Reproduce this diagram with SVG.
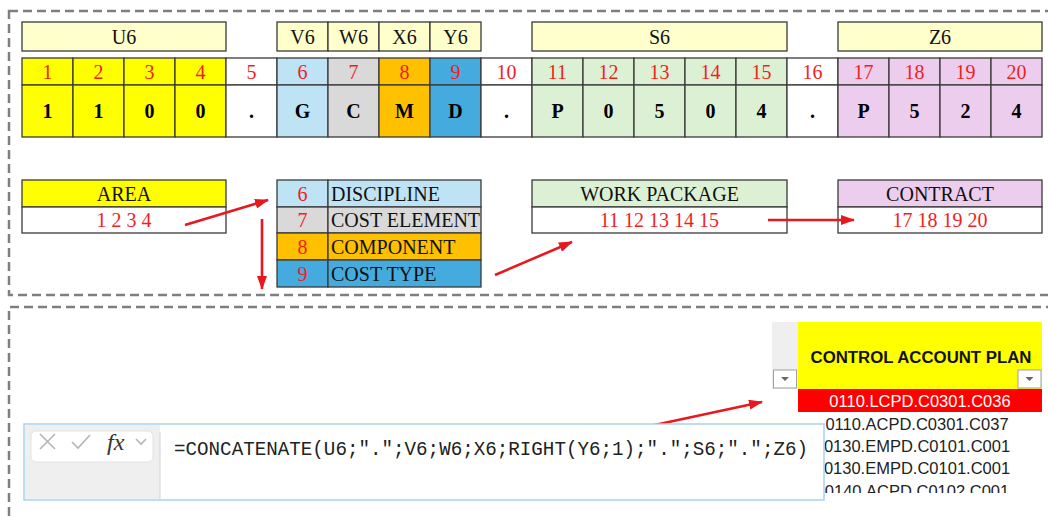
<svg xmlns="http://www.w3.org/2000/svg" width="1048" height="521" viewBox="0 0 1048 521">
<defs>
<style>
.dash{fill:none;stroke:#7f7f7f;stroke-width:2.5;stroke-dasharray:9 5}
.c{stroke:#3a3a3a;stroke-width:1.3}
.hd{fill:#FFFFCC;stroke:#3a3a3a;stroke-width:1.3}
.t{font-family:"Liberation Serif",serif;font-size:20px;fill:#111;text-anchor:middle;dominant-baseline:central}
.n{font-family:"Liberation Serif",serif;font-size:20px;fill:#f01e1e;text-anchor:middle;dominant-baseline:central}
.v{font-family:"Liberation Serif",serif;font-size:20px;font-weight:bold;fill:#000;text-anchor:middle;dominant-baseline:central}
.l{font-family:"Liberation Serif",serif;font-size:20px;fill:#111;dominant-baseline:central}
.ar{stroke:#e8191e;stroke-width:2.6;fill:none;marker-end:url(#ah)}
.y{fill:#FFFF00}.w{fill:#ffffff}.lb{fill:#BEE3F4}.g{fill:#D9D9D9}.o{fill:#FFC000}.b{fill:#45ABDF}.gr{fill:#DCF0D4}.p{fill:#EDCDEE}
.cap{font-family:"Liberation Sans",Arial,sans-serif;font-size:16.5px;fill:#222;text-anchor:middle;dominant-baseline:central}
.capw{fill:#ffffff}
.caph{font-weight:bold;fill:#111;font-size:16.8px}
.ic{stroke:#B5B5B5;stroke-width:1.6;fill:none}
</style>
<marker id="ah" viewBox="0 0 14 10" refX="13" refY="5" markerWidth="14" markerHeight="10" markerUnits="userSpaceOnUse" orient="auto">
<path d="M0,0 L14,5 L0,10 z" fill="#e8191e"/>
</marker>
<clipPath id="listclip"><rect x="797" y="389" width="246" height="104"/></clipPath>
</defs>
<rect width="1048" height="521" fill="#ffffff"/>

<g id="frames">
<rect class="dash" x="9" y="11" width="1050" height="284"/>
<path class="dash" d="M9,530 L9,307 L1060,307"/>
</g>

<g id="headers">
<rect class="hd" x="22" y="22" width="204" height="29"/><text class="t" x="124" y="37">U6</text>
<rect class="hd" x="277" y="22" width="51" height="29"/><text class="t" x="302.5" y="37">V6</text>
<rect class="hd" x="328" y="22" width="51" height="29"/><text class="t" x="353.5" y="37">W6</text>
<rect class="hd" x="379" y="22" width="51" height="29"/><text class="t" x="404.5" y="37">X6</text>
<rect class="hd" x="430" y="22" width="51" height="29"/><text class="t" x="455.5" y="37">Y6</text>
<rect class="hd" x="532" y="22" width="255" height="29"/><text class="t" x="659.5" y="37">S6</text>
<rect class="hd" x="838" y="22" width="204" height="29"/><text class="t" x="940" y="37">Z6</text>
</g>

<g id="code-grid">
<rect class="c y" x="22" y="58" width="51" height="27"/><rect class="c y" x="22" y="85" width="51" height="52"/>
<rect class="c y" x="73" y="58" width="51" height="27"/><rect class="c y" x="73" y="85" width="51" height="52"/>
<rect class="c y" x="124" y="58" width="51" height="27"/><rect class="c y" x="124" y="85" width="51" height="52"/>
<rect class="c y" x="175" y="58" width="51" height="27"/><rect class="c y" x="175" y="85" width="51" height="52"/>
<rect class="c w" x="226" y="58" width="51" height="27"/><rect class="c w" x="226" y="85" width="51" height="52"/>
<rect class="c lb" x="277" y="58" width="51" height="27"/><rect class="c lb" x="277" y="85" width="51" height="52"/>
<rect class="c g" x="328" y="58" width="51" height="27"/><rect class="c g" x="328" y="85" width="51" height="52"/>
<rect class="c o" x="379" y="58" width="51" height="27"/><rect class="c o" x="379" y="85" width="51" height="52"/>
<rect class="c b" x="430" y="58" width="51" height="27"/><rect class="c b" x="430" y="85" width="51" height="52"/>
<rect class="c w" x="481" y="58" width="51" height="27"/><rect class="c w" x="481" y="85" width="51" height="52"/>
<rect class="c gr" x="532" y="58" width="51" height="27"/><rect class="c gr" x="532" y="85" width="51" height="52"/>
<rect class="c gr" x="583" y="58" width="51" height="27"/><rect class="c gr" x="583" y="85" width="51" height="52"/>
<rect class="c gr" x="634" y="58" width="51" height="27"/><rect class="c gr" x="634" y="85" width="51" height="52"/>
<rect class="c gr" x="685" y="58" width="51" height="27"/><rect class="c gr" x="685" y="85" width="51" height="52"/>
<rect class="c gr" x="736" y="58" width="51" height="27"/><rect class="c gr" x="736" y="85" width="51" height="52"/>
<rect class="c w" x="787" y="58" width="51" height="27"/><rect class="c w" x="787" y="85" width="51" height="52"/>
<rect class="c p" x="838" y="58" width="51" height="27"/><rect class="c p" x="838" y="85" width="51" height="52"/>
<rect class="c p" x="889" y="58" width="51" height="27"/><rect class="c p" x="889" y="85" width="51" height="52"/>
<rect class="c p" x="940" y="58" width="51" height="27"/><rect class="c p" x="940" y="85" width="51" height="52"/>
<rect class="c p" x="991" y="58" width="51" height="27"/><rect class="c p" x="991" y="85" width="51" height="52"/>
<text class="n" x="47.5" y="72">1</text><text class="n" x="98.5" y="72">2</text><text class="n" x="149.5" y="72">3</text><text class="n" x="200.5" y="72">4</text><text class="n" x="251.5" y="72">5</text><text class="n" x="302.5" y="72">6</text><text class="n" x="353.5" y="72">7</text><text class="n" x="404.5" y="72">8</text><text class="n" x="455.5" y="72">9</text><text class="n" x="506.5" y="72">10</text><text class="n" x="557.5" y="72">11</text><text class="n" x="608.5" y="72">12</text><text class="n" x="659.5" y="72">13</text><text class="n" x="710.5" y="72">14</text><text class="n" x="761.5" y="72">15</text><text class="n" x="812.5" y="72">16</text><text class="n" x="863.5" y="72">17</text><text class="n" x="914.5" y="72">18</text><text class="n" x="965.5" y="72">19</text><text class="n" x="1016.5" y="72">20</text>
<text class="v" x="47.5" y="111">1</text><text class="v" x="98.5" y="111">1</text><text class="v" x="149.5" y="111">0</text><text class="v" x="200.5" y="111">0</text><text class="v" x="251.5" y="111">.</text><text class="v" x="302.5" y="111">G</text><text class="v" x="353.5" y="111">C</text><text class="v" x="404.5" y="111">M</text><text class="v" x="455.5" y="111">D</text><text class="v" x="506.5" y="111">.</text><text class="v" x="557.5" y="111">P</text><text class="v" x="608.5" y="111">0</text><text class="v" x="659.5" y="111">5</text><text class="v" x="710.5" y="111">0</text><text class="v" x="761.5" y="111">4</text><text class="v" x="812.5" y="111">.</text><text class="v" x="863.5" y="111">P</text><text class="v" x="914.5" y="111">5</text><text class="v" x="965.5" y="111">2</text><text class="v" x="1016.5" y="111">4</text>
</g>

<g id="area">
<rect class="c y" x="22" y="180" width="204" height="27"/>
<rect class="c w" x="22" y="207" width="204" height="26"/>
<text class="t" x="124" y="193.5">AREA</text>
<text class="n" x="124" y="220">1 2 3 4</text>
</g>

<g id="discipline-table">
<rect class="c lb" x="277" y="180" width="51" height="27"/><rect class="c lb" x="328" y="180" width="153" height="27"/>
<rect class="c g" x="277" y="207" width="51" height="26"/><rect class="c g" x="328" y="207" width="153" height="26"/>
<rect class="c o" x="277" y="233" width="51" height="27"/><rect class="c o" x="328" y="233" width="153" height="27"/>
<rect class="c b" x="277" y="260" width="51" height="27"/><rect class="c b" x="328" y="260" width="153" height="27"/>
<text class="n" x="302.5" y="194">6</text><text class="l" x="331" y="194">DISCIPLINE</text>
<text class="n" x="302.5" y="220">7</text><text class="l" x="331" y="220">COST ELEMENT</text>
<text class="n" x="302.5" y="247">8</text><text class="l" x="331" y="247">COMPONENT</text>
<text class="n" x="302.5" y="273.5">9</text><text class="l" x="331" y="273.5">COST TYPE</text>
</g>

<g id="work-package">
<rect class="c gr" x="532" y="180" width="255" height="27"/>
<rect class="c w" x="532" y="207" width="255" height="26"/>
<text class="t" x="659.5" y="193.5">WORK PACKAGE</text>
<text class="n" x="659.5" y="220">11 12 13 14 15</text>
</g>

<g id="contract">
<rect class="c p" x="838" y="180" width="204" height="27"/>
<rect class="c w" x="838" y="207" width="204" height="26"/>
<text class="t" x="940" y="193.5">CONTRACT</text>
<text class="n" x="940" y="220">17 18 19 20</text>
</g>

<g id="control-account-plan">
<rect x="772" y="322" width="26" height="67" fill="#EFEFEF"/>
<rect x="798" y="322" width="244" height="67" fill="#FFFF00"/>
<text class="cap caph" x="921" y="357">CONTROL ACCOUNT PLAN</text>
<rect x="773.5" y="370" width="23" height="18" fill="#ffffff" stroke="#a0a0a0" stroke-width="1"/>
<path d="M781,377 L789,377 L785,381 z" fill="#666"/>
<rect x="1018" y="370" width="23" height="18" fill="#ffffff" stroke="#a0a0a0" stroke-width="1"/>
<path d="M1025.5,377 L1033.5,377 L1029.5,381 z" fill="#666"/>
<rect x="798" y="389" width="244" height="23" fill="#FF0000"/>
<text class="cap capw" x="920" y="401">0110.LCPD.C0301.C036</text>
<g clip-path="url(#listclip)">
<text class="cap" x="917" y="424">0110.ACPD.C0301.C037</text>
<text class="cap" x="917" y="446">0130.EMPD.C0101.C001</text>
<text class="cap" x="917" y="468">0130.EMPD.C0101.C001</text>
<text class="cap" x="917" y="491">0140.ACPD.C0102.C001</text>
</g>
</g>

<g id="connectors">
<line class="ar" x1="185" y1="225" x2="268" y2="200"/>
<line class="ar" x1="262" y1="219" x2="262" y2="289"/>
<line class="ar" x1="495" y1="275" x2="572" y2="242"/>
<line class="ar" x1="768" y1="220" x2="854" y2="220"/>
<line class="ar" x1="650" y1="426" x2="762" y2="402"/>
</g>

<g id="formula-bar">
<rect x="24" y="424" width="800" height="76" fill="#ffffff" stroke="#A8D2EE" stroke-width="1.5"/>
<rect x="25" y="425" width="135" height="74" fill="#EFEFEF"/>
<line x1="160" y1="432" x2="160" y2="499" stroke="#D4D4D4" stroke-width="1"/>
<rect x="31" y="431" width="122" height="31" rx="5" fill="#ffffff" stroke="#E2E2E2" stroke-width="1"/>
<path class="ic" d="M40,434 L55,449 M55,434 L40,449"/>
<path class="ic" d="M72,442 L78,448 L90,435"/>
<text x="107" y="450" font-family="'Liberation Serif',serif" font-style="italic" font-size="24px" fill="#333">fx</text>
<path class="ic" d="M136,439 L141,444 L146,439" stroke-width="1.2"/>
<text x="174" y="455" font-family="'Liberation Mono','DejaVu Sans Mono',monospace" font-size="20px" fill="#222" textLength="634" lengthAdjust="spacingAndGlyphs">=CONCATENATE(U6;".";V6;W6;X6;RIGHT(Y6;1);".";S6;".";Z6)</text>
</g>
</svg>
